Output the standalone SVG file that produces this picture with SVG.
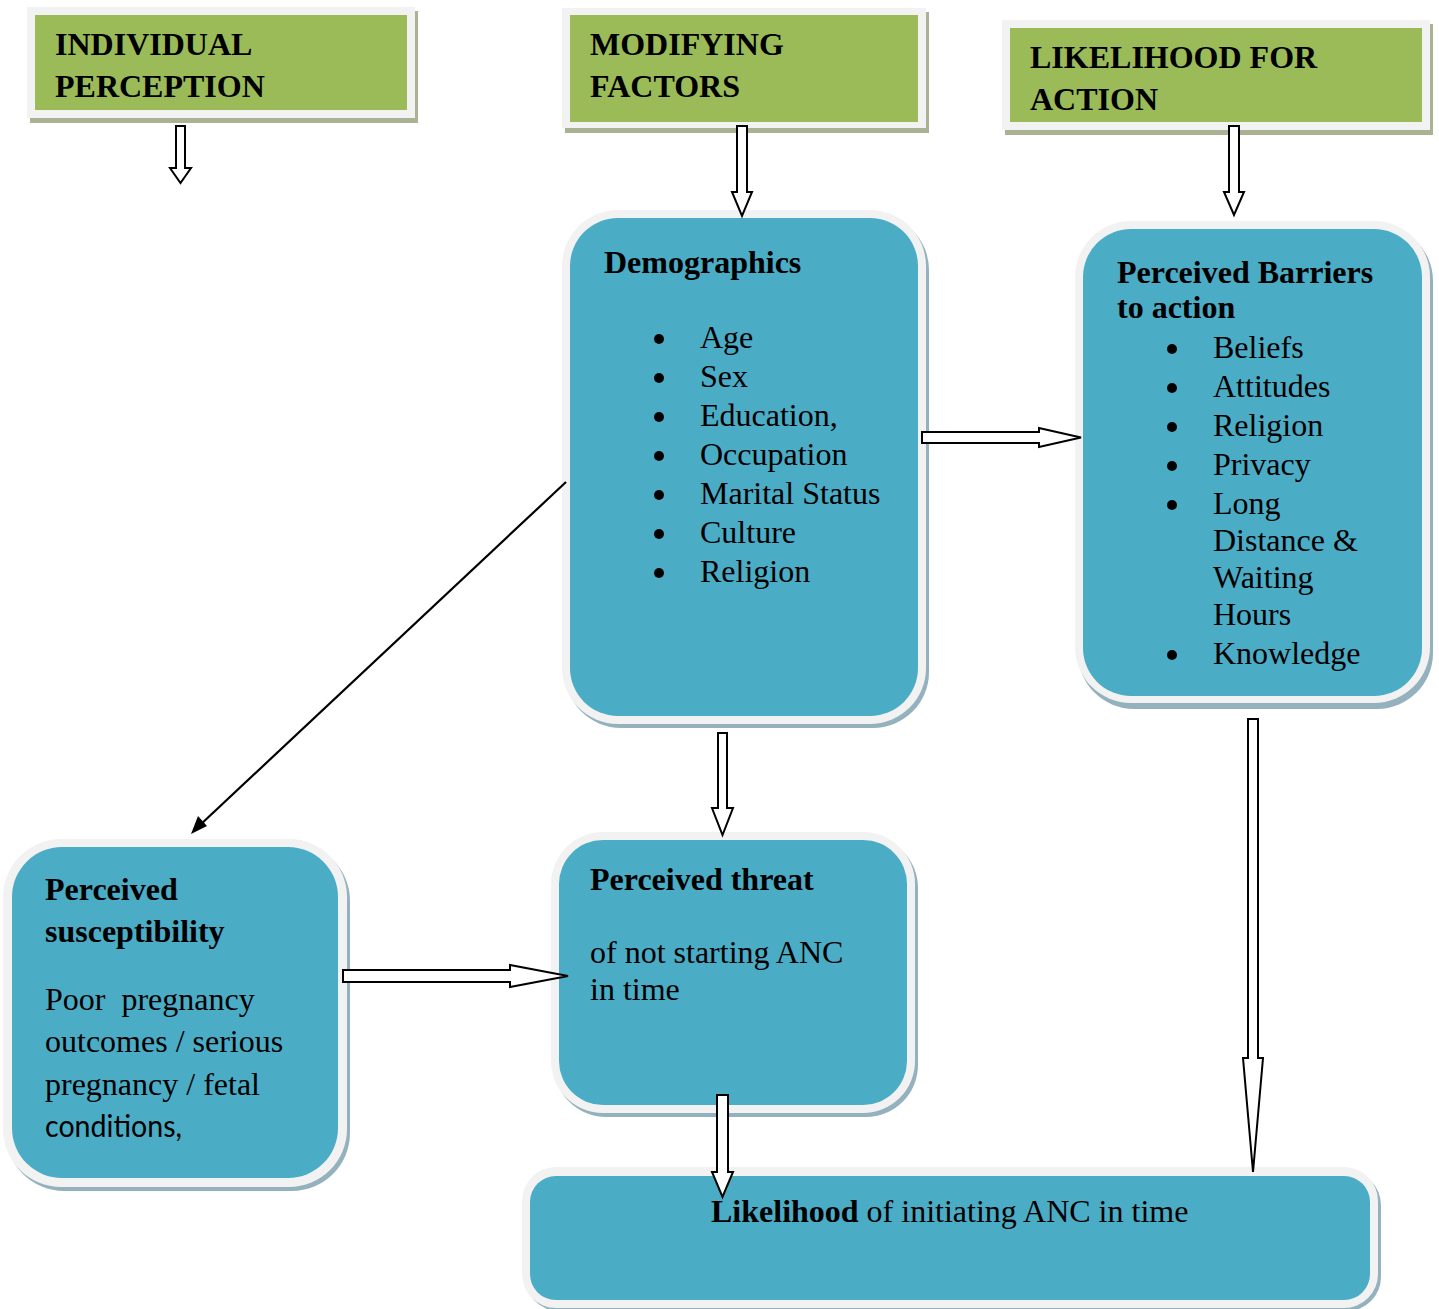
<svg xmlns="http://www.w3.org/2000/svg" width="1439" height="1309" viewBox="0 0 1439 1309">
<defs>
<style>
.hdr-sh{fill:#a9b293}
.hdr-out{fill:#f2f2f2}
.hdr-in{fill:#9bbb59}
.box-sh{fill:#94b2bd}
.box-out{fill:#f2f2f2}
.box-in{fill:#4bacc6}
.t{font-family:"Liberation Serif","Times New Roman",serif;font-size:32px;fill:#000}
.b{font-weight:bold}
.s{font-family:Lato,"Liberation Sans",sans-serif;font-size:30px;fill:#000}
.blk{fill:#fff;stroke:#000;stroke-width:2;stroke-linejoin:miter}
.dot{fill:#000}
</style>
<marker id="ah2" viewBox="0 0 20 14" refX="19" refY="7" markerWidth="20" markerHeight="14" markerUnits="userSpaceOnUse" orient="auto">
<path d="M0,0 L20,7 L0,14 z" fill="#000"/>
</marker>
</defs>
<rect width="1439" height="1309" fill="#fff"/>

<g id="hdr-individual">
<rect class="hdr-sh" x="30" y="11" width="388" height="112"/>
<rect class="hdr-out" x="27" y="7" width="388" height="111"/>
<rect class="hdr-in" x="35" y="15" width="372" height="95"/>
<text class="t b" x="55" y="55">INDIVIDUAL</text>
<text class="t b" x="55" y="97">PERCEPTION</text>
</g>

<g id="hdr-modifying">
<rect class="hdr-sh" x="565" y="12" width="364" height="121"/>
<rect class="hdr-out" x="562" y="8" width="364" height="120"/>
<rect class="hdr-in" x="570" y="15" width="348" height="107"/>
<text class="t b" x="590" y="55">MODIFYING</text>
<text class="t b" x="590" y="97">FACTORS</text>
</g>

<g id="hdr-likelihood">
<rect class="hdr-sh" x="1005" y="24" width="428" height="111"/>
<rect class="hdr-out" x="1002" y="20" width="428" height="110"/>
<rect class="hdr-in" x="1010" y="28" width="412" height="94"/>
<text class="t b" x="1030" y="68">LIKELIHOOD FOR</text>
<text class="t b" x="1030" y="110">ACTION</text>
</g>

<g id="demographics">
<rect class="box-sh" x="565" y="214" width="364" height="514" rx="56"/>
<rect class="box-out" x="562" y="210" width="364" height="514" rx="56"/>
<rect class="box-in" x="570" y="218" width="348" height="498" rx="48"/>
<text class="t b" x="604" y="273">Demographics</text>
<circle class="dot" cx="659" cy="339" r="5"/><text class="t" x="700" y="348">Age</text>
<circle class="dot" cx="659" cy="378" r="5"/><text class="t" x="700" y="387">Sex</text>
<circle class="dot" cx="659" cy="417" r="5"/><text class="t" x="700" y="426">Education,</text>
<circle class="dot" cx="659" cy="456" r="5"/><text class="t" x="700" y="465">Occupation</text>
<circle class="dot" cx="659" cy="495" r="5"/><text class="t" x="700" y="504">Marital Status</text>
<circle class="dot" cx="659" cy="534" r="5"/><text class="t" x="700" y="543">Culture</text>
<circle class="dot" cx="659" cy="573" r="5"/><text class="t" x="700" y="582">Religion</text>
</g>

<g id="barriers">
<rect class="box-sh" x="1078" y="225" width="355" height="484" rx="56"/>
<rect class="box-out" x="1075" y="221" width="355" height="482" rx="56"/>
<rect class="box-in" x="1083" y="229" width="339" height="467" rx="48"/>
<text class="t b" x="1117" y="283">Perceived Barriers</text>
<text class="t b" x="1117" y="318">to action</text>
<circle class="dot" cx="1172" cy="349" r="5"/><text class="t" x="1213" y="358">Beliefs</text>
<circle class="dot" cx="1172" cy="388" r="5"/><text class="t" x="1213" y="397">Attitudes</text>
<circle class="dot" cx="1172" cy="427" r="5"/><text class="t" x="1213" y="436">Religion</text>
<circle class="dot" cx="1172" cy="466" r="5"/><text class="t" x="1213" y="475">Privacy</text>
<circle class="dot" cx="1172" cy="505" r="5"/><text class="t" x="1213" y="514">Long</text>
<text class="t" x="1213" y="551">Distance &amp;</text>
<text class="t" x="1213" y="588">Waiting</text>
<text class="t" x="1213" y="625">Hours</text>
<circle class="dot" cx="1172" cy="655" r="5"/><text class="t" x="1213" y="664">Knowledge</text>
</g>

<g id="susceptibility">
<rect class="box-sh" x="6" y="843" width="344" height="348" rx="58"/>
<rect class="box-out" x="3" y="839" width="344" height="348" rx="58"/>
<rect class="box-in" x="12" y="847" width="326" height="331" rx="50"/>
<text class="t b" x="45" y="900">Perceived</text>
<text class="t b" x="45" y="942">susceptibility</text>
<text class="t" x="45" y="1010" style="white-space:pre">Poor  pregnancy</text>
<text class="t" x="45" y="1052">outcomes / serious</text>
<text class="t" x="45" y="1095">pregnancy / fetal</text>
<text class="s" x="45" y="1137" textLength="137" lengthAdjust="spacingAndGlyphs">conditions,</text>
</g>

<g id="threat">
<rect class="box-sh" x="554" y="836" width="364" height="281" rx="52"/>
<rect class="box-out" x="551" y="832" width="364" height="281" rx="52"/>
<rect class="box-in" x="559" y="840" width="348" height="265" rx="44"/>
<text class="t b" x="590" y="890">Perceived threat</text>
<text class="t" x="590" y="963">of not starting ANC</text>
<text class="t" x="590" y="1000">in time</text>
</g>

<g id="likelihood">
<rect class="box-sh" x="525" y="1171" width="856" height="140" rx="34"/>
<rect class="box-out" x="522" y="1167" width="856" height="141" rx="34"/>
<rect class="box-in" x="530" y="1176" width="840" height="124" rx="26"/>
<text class="t" x="711" y="1222"><tspan class="b">Likelihood</tspan> of initiating ANC in time</text>
</g>

<g id="connectors">
<polygon class="blk" points="176,126 185,126 185,168 191,168 180.5,183 170,168 176,168"/>
<polygon class="blk" points="737,126 747,126 747,192 752,192 742,216 732,192 737,192"/>
<polygon class="blk" points="1229,126 1239,126 1239,192 1244,192 1234,215 1224,192 1229,192"/>
<polygon class="blk" points="922,432 1039,432 1039,428 1081,437.5 1039,447 1039,443 922,443"/>
<polygon class="blk" points="718,733 727,733 727,808 733,808 722.5,835 712,808 718,808"/>
<polygon class="blk" points="343,970 510,970 510,965 568,976 510,987 510,982 343,982"/>
<polygon class="blk" points="1248,719 1258,719 1258,1058 1263,1058 1253,1172 1243,1058 1248,1058"/>
<polygon class="blk" points="717,1095 728,1095 728,1172 733,1172 722.5,1197 712,1172 717,1172"/>
<line x1="566" y1="482" x2="199" y2="826" stroke="#000" stroke-width="2.2"/>
<polygon points="191,834 198,816 207,826" fill="#000"/>
</g>
</svg>
